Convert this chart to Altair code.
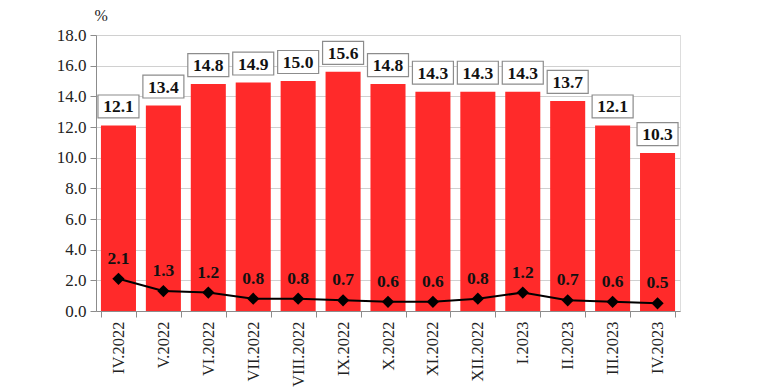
import altair as alt
import pandas as pd

months = ["IV.2022", "V.2022", "VI.2022", "VII.2022", "VIII.2022", "IX.2022",
          "X.2022", "XI.2022", "XII.2022", "I.2023", "II.2023", "III.2023", "IV.2023"]
annual = [12.1, 13.4, 14.8, 14.9, 15.0, 15.6, 14.8, 14.3, 14.3, 14.3, 13.7, 12.1, 10.3]
monthly = [2.1, 1.3, 1.2, 0.8, 0.8, 0.7, 0.6, 0.6, 0.8, 1.2, 0.7, 0.6, 0.5]
y_ticks = [0, 2, 4, 6, 8, 10, 12, 14, 16, 18]

df = pd.DataFrame({"month": months, "annual": annual, "monthly": monthly})

FONT = "Liberation Serif"
GRAY = "#8c8c8c"

x = alt.X("month:N", sort=months, title=None,
          scale=alt.Scale(paddingInner=0.22, paddingOuter=0.11),
          axis=alt.Axis(labelAngle=-90, labelFont=FONT, labelFontSize=16.5,
                        labelColor="#222", tickBand="extent", tickColor=GRAY,
                        domainColor=GRAY, tickSize=6, labelPadding=4))

yscale = alt.Scale(domain=[0, 18], nice=False)
yaxis = alt.Axis(values=y_ticks, format=".1f",
                 labelOverlap=False, labelFont=FONT, labelFontSize=17, labelColor="#222",
                 gridColor="#d0d0d0", domainColor=GRAY, tickColor=GRAY, tickSize=6,
                 title="%", titleAngle=0, titleX=-2, titleY=-20, titleAlign="left",
                 titleBaseline="middle", titleFont=FONT, titleFontSize=16,
                 titleFontWeight="normal", titleColor="#222", labelPadding=4)

ya = alt.Y("annual:Q", scale=yscale, axis=yaxis, title="%")
ym = alt.Y("monthly:Q", scale=yscale, axis=yaxis, title="%")

base = alt.Chart(df)

bars = base.mark_bar(color="#FF2A2A").encode(x=x, y=ya)

boxes = base.mark_point(
    shape="M-1,-0.56L1,-0.56L1,0.56L-1,0.56Z", size=1681, filled=True,
    fill="white", stroke=GRAY, strokeWidth=1.2, opacity=1, yOffset=-19
).encode(x=x, y=ya)

bar_text = base.mark_text(font=FONT, fontSize=17.5, fontWeight="bold", color="#111",
                          dy=-18, baseline="middle").encode(
    x=x, y=ya, text=alt.Text("annual:Q", format=".1f"))

line = base.mark_line(color="black", strokeWidth=2).encode(x=x, y=ym)
pts = base.mark_point(shape="diamond", size=150, filled=True, color="black",
                      opacity=1).encode(x=x, y=ym)
line_text = base.mark_text(font=FONT, fontSize=17.5, fontWeight="bold", color="#111",
                           dy=-20, baseline="middle").encode(
    x=x, y=ym, text=alt.Text("monthly:Q", format=".1f"))

chart = alt.layer(bars, boxes, bar_text, line, pts, line_text).properties(
    width=584, height=276,
    autosize=alt.AutoSizeParams(type="none"),
    padding={"left": 88, "top": 27, "right": 80, "bottom": 80},
).configure_view(stroke=GRAY, strokeWidth=1).configure(background="white")

chart.save("out.html", embed_options={"renderer": "svg", "actions": False})
